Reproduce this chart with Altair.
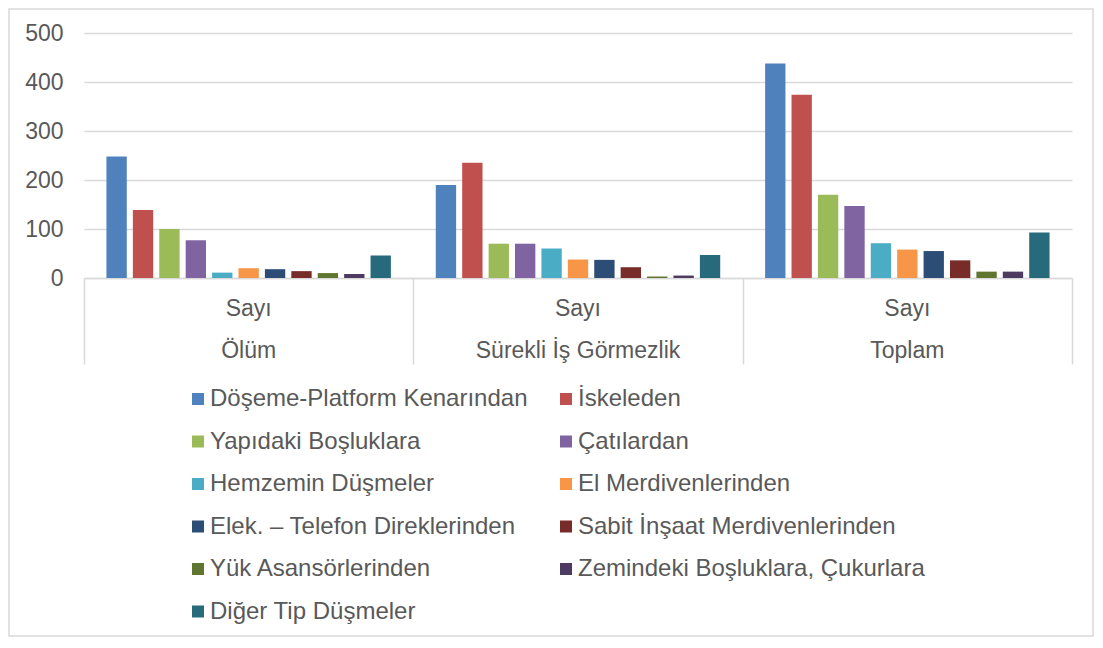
import altair as alt
import pandas as pd

groups = ["Ölüm", "Sürekli İş Görmezlik", "Toplam"]
series = [
    "Döşeme-Platform Kenarından",
    "İskeleden",
    "Yapıdaki Boşluklara",
    "Çatılardan",
    "Hemzemin Düşmeler",
    "El Merdivenlerinden",
    "Elek. – Telefon Direklerinden",
    "Sabit İnşaat Merdivenlerinden",
    "Yük Asansörlerinden",
    "Zemindeki Boşluklara, Çukurlara",
    "Diğer Tip Düşmeler",
]
olum = [248, 139, 100, 77, 11, 20, 18, 14, 10, 8, 46]
surekli = [190, 235, 70, 70, 60, 38, 37, 22, 3, 5, 47]
toplam = [438, 374, 170, 147, 71, 58, 55, 36, 13, 13, 93]
colors = ["#4F81BD", "#C0504D", "#9BBB59", "#8064A2", "#4BACC6", "#F79646",
          "#2C4D75", "#772C2A", "#5F7530", "#4D3B62", "#276A7C"]
y_ticks = [0, 100, 200, 300, 400, 500]

# legend fills column by column: reorder so it reads row by row like the reference
legend_order = [0, 2, 4, 6, 8, 10, 1, 3, 5, 7, 9]
legend_domain = [series[i] for i in legend_order]
legend_range = [colors[i] for i in legend_order]

rows = []
for g, vals in zip(groups, [olum, surekli, toplam]):
    for s, v in zip(series, vals):
        rows.append({"grup": g, "seri": s, "deger": v})
df = pd.DataFrame(rows)
text_df = pd.DataFrame({"grup": groups})
one = pd.DataFrame({"a": [0]})

W, H = 988, 245
FONT = "Liberation Sans"
GRAY = "#595959"
LINE = "#d9d9d9"

x_enc = alt.X(
    "grup:N", sort=groups,
    scale=alt.Scale(paddingInner=0, paddingOuter=0),
    axis=alt.Axis(title=None, labels=False, ticks=True, tickBand="extent",
                  tickSize=86, tickColor=LINE, tickWidth=1.5,
                  domain=True, domainColor=LINE, domainWidth=1.5, grid=False),
)

bars = alt.Chart(df).mark_bar().encode(
    x=x_enc,
    xOffset=alt.XOffset("seri:N", sort=series,
                        scale=alt.Scale(paddingInner=0.23, paddingOuter=0.85)),
    y=alt.Y("deger:Q", scale=alt.Scale(domain=[0, 500]),
            axis=alt.Axis(title=None, values=y_ticks, grid=True, gridColor=LINE,
                          gridWidth=1.5, ticks=False, domain=False,
                          labelFontSize=23, labelColor=GRAY, labelFont=FONT,
                          labelPadding=21)),
    color=alt.Color("seri:N", sort=legend_domain,
                    scale=alt.Scale(domain=legend_domain, range=legend_range),
                    legend=alt.Legend(title=None, orient="none", legendX=102,
                                      legendY=354, columns=2, symbolType="square",
                                      symbolSize=144, symbolStrokeWidth=0,
                                      symbolOpacity=1,
                                      labelFontSize=24, labelColor=GRAY,
                                      labelFont=FONT, rowPadding=18.5,
                                      columnPadding=26, labelOffset=0,
                                      padding=0, labelLimit=0)),
)

sayi = alt.Chart(text_df).mark_text(font=FONT, fontSize=23, color=GRAY,
                                    baseline="middle").encode(
    x=alt.X("grup:N", sort=groups),
    y=alt.value(H + 31),
    text=alt.value("Sayı"),
)
names = alt.Chart(text_df).mark_text(font=FONT, fontSize=23, color=GRAY,
                                     baseline="middle").encode(
    x=alt.X("grup:N", sort=groups),
    y=alt.value(H + 73),
    text="grup:N",
)
border = alt.Chart(one).mark_rect(fillOpacity=0, stroke=LINE, strokeWidth=1.5).encode(
    x=alt.value(-75),
    x2=alt.value(W + 21),
    y=alt.value(-24),
    y2=alt.value(H + 358),
)

chart = alt.layer(border, bars, sayi, names).properties(
    width=W, height=H,
    padding={"left": 76, "top": 25, "right": 23, "bottom": 360},
    autosize=alt.AutoSizeParams(type="none"),
).configure_view(stroke=None)

chart.save("out.html", embed_options={"renderer": "svg", "actions": False})
